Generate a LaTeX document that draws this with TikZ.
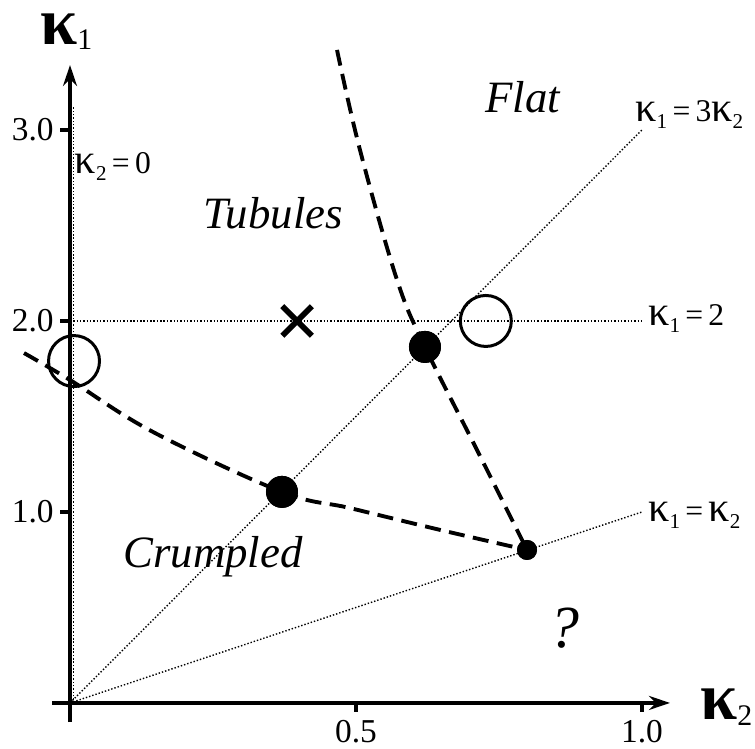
\documentclass[tikz,border=0pt]{standalone}
\usepackage{fontspec}
\setmainfont{Liberation Serif}
\usetikzlibrary{arrows.meta, shapes.misc}

% kappa with a subscript, for the guide labels and the axes
\newcommand{\kp}[1]{{\fontsize{24}{24}\selectfont κ}\raisebox{-4pt}{\fontsize{12}{12}\selectfont #1}}
\newcommand{\axkp}[1]{{\fontsize{38}{38}\selectfont\bfseries κ}\raisebox{-3pt}{\fontsize{17}{17}\selectfont #1}}

\begin{document}
\begin{tikzpicture}[
  x=11.44cm, y=3.82cm,
  axis/.style = {line width=2.3pt, -{Stealth[length=0.42cm, width=0.28cm]}},
  tick/.style = {line width=2.3pt},
  guide/.style = {line width=0.8pt, dash pattern=on 0.8pt off 1.1pt},
  boundary/.style = {line width=2.2pt, dash pattern=on 0.32cm off 0.17cm},
  bigdot/.style = {circle, fill=black, inner sep=0pt, minimum size=0.64cm},
  smalldot/.style = {circle, fill=black, inner sep=0pt, minimum size=0.4cm},
  ring/.style = {circle, draw=black, line width=1.7pt, inner sep=0pt, minimum size=1.02cm},
  region/.style = {font=\fontsize{25.5}{28}\selectfont\itshape, inner sep=0pt},
  numlabel/.style = {font=\fontsize{19}{21}\selectfont, inner sep=0pt},
  eqlabel/.style = {font=\fontsize{18}{20}\selectfont, inner sep=0pt}
]
  \useasboundingbox (-0.1224,-0.2408) rectangle (1.1976,3.6806);

  % Axes
  \coordinate (o) at (0,0);
  \coordinate (ybot) at (0,-0.1);
  \coordinate (ytop) at (0,3.34);
  \coordinate (xleft) at (-0.031,0);
  \coordinate (xright) at (1.049,0);

  % Guide lines (dotted)
  \coordinate (k0a) at (0.006,0);
  \coordinate (k0b) at (0.006,3.12);
  \coordinate (k2a) at (0,2);
  \coordinate (k2b) at (1,2);
  \coordinate (k3) at (1,3);
  \coordinate (k1) at (1,1);
  \draw[guide] (k0a) -- (k0b);
  \draw[guide] (k2a) -- (k2b);
  \draw[guide] (o) -- (k3);
  \draw[guide] (o) -- (k1);

  \draw[axis] (ybot) -- (ytop);
  \draw[axis] (xleft) -- (xright);

  % Ticks and their values
  \foreach \k in {1,2,3} {
    \draw[tick] (-0.0175,\k) -- (0,\k);
    \node[numlabel, anchor=east] (yt\k) at (-0.028,\k) {\k.0};
  }
  \draw[tick] (0.5,0) -- (0.5,-0.045);
  \draw[tick] (1,0) -- (1,-0.045);
  \node[numlabel, anchor=north] (xt1) at (0.5,-0.09) {0.5};
  \node[numlabel, anchor=north] (xt2) at (1,-0.09) {1.0};

  % Axis names
  \node[inner sep=0pt, anchor=base west] (ylab) at (-0.0524,3.45) {\axkp{1}};
  \node[inner sep=0pt, anchor=base west] (xlab) at (1.1014,-0.089) {\axkp{2}};

  % Guide labels
  \node[eqlabel, anchor=base] (l0) at (0.075,2.77) {\kp{2}\,=\,0};
  \node[eqlabel, anchor=base west] (l2) at (1.0105,1.975) {\kp{1}\,=\,2};
  \node[eqlabel, anchor=base west] (l3) at (0.988,3.042) {\kp{1}\,=\,3\kp{2}};
  \node[eqlabel, anchor=base west] (l1) at (1.0105,0.95) {\kp{1}\,=\,\kp{2}};

  % Points
  \node[bigdot] (p1) at (0.3706,1.105) {};
  \node[bigdot] (p2) at (0.6206,1.864) {};
  \node[smalldot] (p3) at (0.799,0.801) {};
  \node[ring] (r1) at (0.007,1.79) {};
  \node[ring] (r2) at (0.727,2.0) {};
  \node[cross out, draw, line width=3.2pt, inner sep=0pt, minimum size=0.48cm] (cx) at (0.397,2.0) {};

  % Phase boundaries (dashed)
  \coordinate (a0) at (-0.0804,1.832);
  \coordinate (a1) at (0,1.691);
  \coordinate (a2) at (0.145,1.419);
  \coordinate (a3) at (0.49,1.02);
  \coordinate (a4) at (0.647,0.906);
  \draw[boundary] plot[smooth, tension=0.6] coordinates {(a0) (a1) (a2) (p1.center) (a3) (a4) (p3.center)};
  \coordinate (b0) at (0.4668,3.419);
  \coordinate (b1) at (0.507,2.895);
  \coordinate (b2) at (0.5717,2.215);
  \coordinate (b3) at (0.7098,1.335);
  \draw[boundary] plot[smooth, tension=0.6] coordinates {(b0) (b1) (b2) (p2.center) (b3) (p3.center)};

  % Redraw points over the dashes
  \node[bigdot] at (p1) {};
  \node[bigdot] at (p2) {};
  \node[smalldot] at (p3) {};

  % Regions
  \node[region, anchor=base west] (flat) at (0.7255,3.089) {Flat};
  \node[region, anchor=base west] (tub) at (0.2325,2.482) {Tubules};
  \node[region, anchor=base west] (crum) at (0.0927,0.707) {Crumpled};
  \node[region, anchor=base, font=\fontsize{34}{36}\selectfont\itshape] (qm) at (0.865,0.288) {?};

\end{tikzpicture}
\end{document}
